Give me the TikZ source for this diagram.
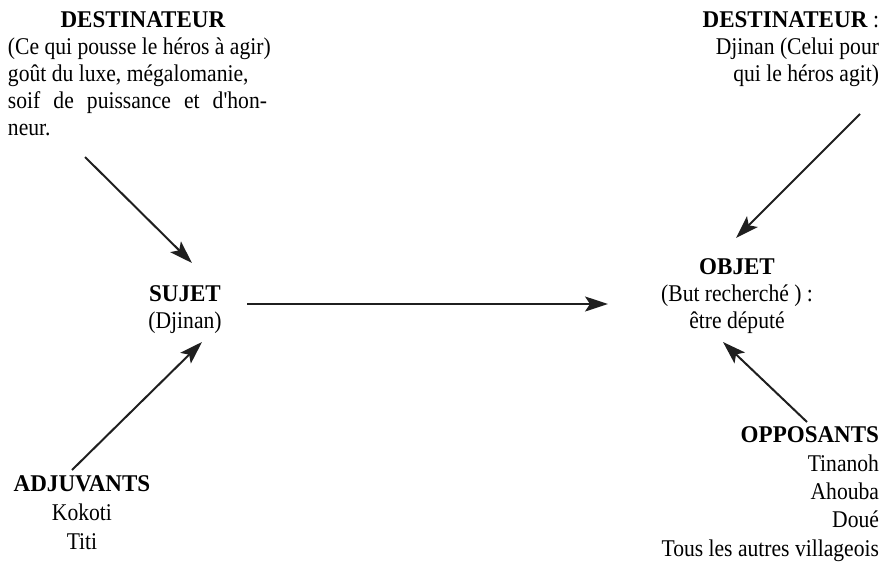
\documentclass[tikz,border=0pt]{standalone}
\usepackage{fontspec}
\setmainfont{Liberation Serif}[Ligatures=TeXOff, FakeStretch=0.9, BoldFeatures={FakeStretch=0.96}]
\usetikzlibrary{arrows.meta}
\begin{document}
\begin{tikzpicture}[x=1pt,y=-1pt,
  lbl/.style={inner sep=0pt, outer sep=0pt, font=\fontsize{24}{27}\selectfont},
  conn/.style={line width=2pt, draw=black!88, -{Stealth[length=23pt,width=15pt,inset=5pt]}}]
\useasboundingbox (0,0) rectangle (888,565);
% nodes
\node[lbl, anchor=north west, align=left] (dest) at (8,9)
  {\strut\makebox[270pt]{\textbf{DESTINATEUR}}\\
   (Ce qui pousse le héros à agir)\\
   goût du luxe, mégalomanie,\\
   \makebox[259pt][s]{soif de puissance et d'hon-}\\
   neur.};
\node[lbl, anchor=north east, align=right] (destb) at (879,9)
  {\strut\textbf{DESTINATEUR} :\\ Djinan (Celui pour\\ qui le héros agit)};
\node[lbl, anchor=north, align=center] (sujet) at (185,283)
  {\strut\textbf{SUJET}\\ (Djinan)};
\node[lbl, anchor=north, align=center] (objet) at (737,256)
  {\strut\textbf{OBJET}\\ (But recherché ) :\\ être député};
\node[lbl, anchor=north east, align=right, font=\fontsize{24}{28.3}\selectfont] (opp) at (879,423)
  {\strut\textbf{OPPOSANTS}\\ Tinanoh\\ Ahouba\\ Doué\\ Tous les autres villageois};
\node[lbl, anchor=north, align=center, font=\fontsize{24}{29}\selectfont] (adj) at (82,471)
  {\strut\textbf{ADJUVANTS}\\ Kokoti\\ Titi};
% connector ends
\coordinate (a1s) at (85,157);  \coordinate (a1e) at (192,263);
\coordinate (a2s) at (247,304); \coordinate (a2e) at (608,304);
\coordinate (a3s) at (72,470);  \coordinate (a3e) at (202,342);
\coordinate (a4s) at (860,114); \coordinate (a4e) at (736,238);
\coordinate (a5s) at (807,422); \coordinate (a5e) at (723,342);
% connectors
\draw[conn] (a1s) -- (a1e);
\draw[conn] (a2s) -- (a2e);
\draw[conn] (a3s) -- (a3e);
\draw[conn] (a4s) -- (a4e);
\draw[conn] (a5s) -- (a5e);
\end{tikzpicture}
\end{document}
